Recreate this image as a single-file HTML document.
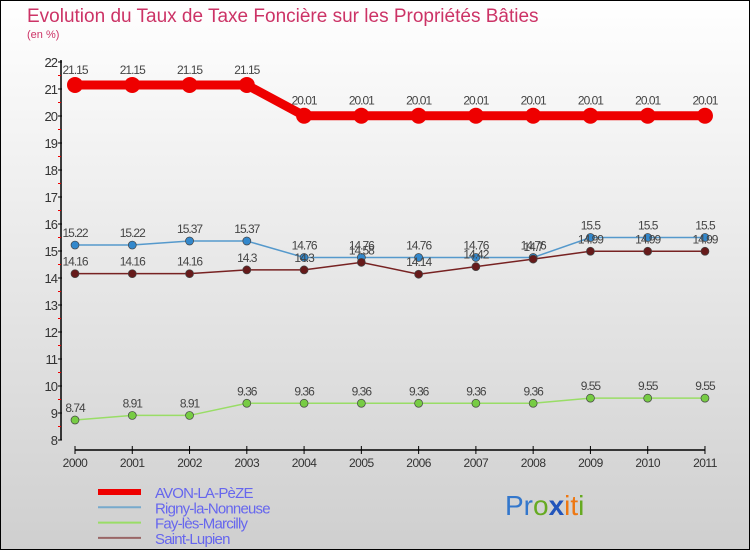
<!DOCTYPE html>
<html><head><meta charset="utf-8"><style>
body{margin:0;width:750px;height:550px;overflow:hidden;font-family:"Liberation Sans",sans-serif}
svg{display:block}
</style></head><body>
<svg id="c" width="750" height="550">
<defs><linearGradient id="bg" x1="0" y1="0" x2="0" y2="1"><stop offset="0" stop-color="#ffffff"/><stop offset="1" stop-color="#cfcfcf"/></linearGradient></defs>
<rect x="0.5" y="0.5" width="749" height="549" fill="url(#bg)" stroke="#000"/>
<text x="27" y="22" font-size="19" fill="#cc3366">Evolution du Taux de Taxe Foncière sur les Propriétés Bâties</text>
<text x="27" y="38" font-size="11" fill="#cc3366">(en %)</text>
<g id="axes"></g><g id="series"></g><g id="legend"></g>
<text x="505" y="515" font-size="28"><tspan fill="#3377cc">Pr</tspan><tspan fill="#66aa22">o</tspan><tspan fill="#2255bb" font-weight="bold">x</tspan><tspan fill="#ee7711">i</tspan><tspan fill="#ee7711">t</tspan><tspan fill="#66aa22">i</tspan></text>
</svg>
<script>
const years=["2000","2001","2002","2003","2004","2005","2006","2007","2008","2009","2010","2011"];
const avon=[21.15,21.15,21.15,21.15,20.01,20.01,20.01,20.01,20.01,20.01,20.01,20.01];
const rigny=[15.22,15.22,15.37,15.37,14.76,14.76,14.76,14.76,14.76,15.5,15.5,15.5];
const fay=[8.74,8.91,8.91,9.36,9.36,9.36,9.36,9.36,9.36,9.55,9.55,9.55];
const lupien=[14.16,14.16,14.16,14.3,14.3,14.58,14.14,14.42,14.7,14.99,14.99,14.99];
const yTicks=[8,9,10,11,12,13,14,15,16,17,18,19,20,21,22];
const NS="http://www.w3.org/2000/svg";
const x=i=>75+i*57.27;
const y=v=>440-(v-8)*27;
function mk(t,a,p){const e=document.createElementNS(NS,t);for(const k in a)e.setAttribute(k,a[k]);p.appendChild(e);return e;}
const ax=document.getElementById('axes');
let l=mk('line',{x1:61,y1:60,x2:61,y2:440,stroke:'#000','stroke-width':1.5},ax);


l=mk('line',{x1:75,y1:450,x2:705,y2:450,stroke:'#000','stroke-width':1.5},ax);


yTicks.forEach(v=>{
 mk('line',{x1:58,y1:y(v),x2:62,y2:y(v),stroke:'#000'},ax);
 if(v<22)mk('line',{x1:58,y1:y(v+0.5),x2:61,y2:y(v+0.5),stroke:'#e00'},ax);
 const t=mk('text',{x:57,y:y(v)+5,'text-anchor':'end','font-size':13,fill:'#333','letter-spacing':'-1'},ax);
 t.textContent=v;
 
 
});
years.forEach((yr,i)=>{
 mk('line',{x1:x(i),y1:446,x2:x(i),y2:454,stroke:'#000'},ax);
 const t=mk('text',{x:x(i),y:467,'text-anchor':'middle','font-size':12,fill:'#333','letter-spacing':'-0.5'},ax);
 t.textContent=yr;
 
 
});
const sg=document.getElementById('series');
const defs=[[avon,'#ee0000',9,8,'avon'],[rigny,'#5599cc',1.5,4,'rigny'],[fay,'#99dd66',1.5,4,'fay'],[lupien,'#772222',1.5,4,'lupien']];
const fills={avon:'#ee0000',rigny:'#3388cc',fay:'#77cc44',lupien:'#661a1a'};
defs.forEach(([d,c,w,r,n])=>{
 const p=mk('polyline',{points:d.map((v,i)=>x(i)+','+y(v)).join(' '),fill:'none',stroke:c,'stroke-width':w},sg);
 
 
 d.forEach((v,i)=>{
  const ci=mk('circle',{cx:x(i),cy:y(v),r:r,fill:fills[n],stroke:n=='avon'?'none':'#444','stroke-width':0.7},sg);
  
  
  const t=mk('text',{x:x(i),y:y(v)-(n=='avon'?11:8),'text-anchor':'middle','font-size':12,fill:'#444','letter-spacing':'-1'},sg);
  t.textContent=v;
  
  
 });
});
const lg=document.getElementById('legend');
[['AVON-LA-PèZE','#ee0000',6],['Rigny-la-Nonneuse','#77aacc',2],['Fay-lès-Marcilly','#99dd66',2],['Saint-Lupien','#996666',2]].forEach(([nm,c,w],k)=>{
 const yy=492+k*15.3;
 const li=mk('line',{x1:98,y1:yy,x2:141,y2:yy,stroke:c,'stroke-width':w},lg);
 
 
 const t=mk('text',{x:155,y:yy+6,'font-size':15,fill:'#6666ee','letter-spacing':'-0.8'},lg);
 t.textContent=nm;
 
 
});
</script>
</body></html>
